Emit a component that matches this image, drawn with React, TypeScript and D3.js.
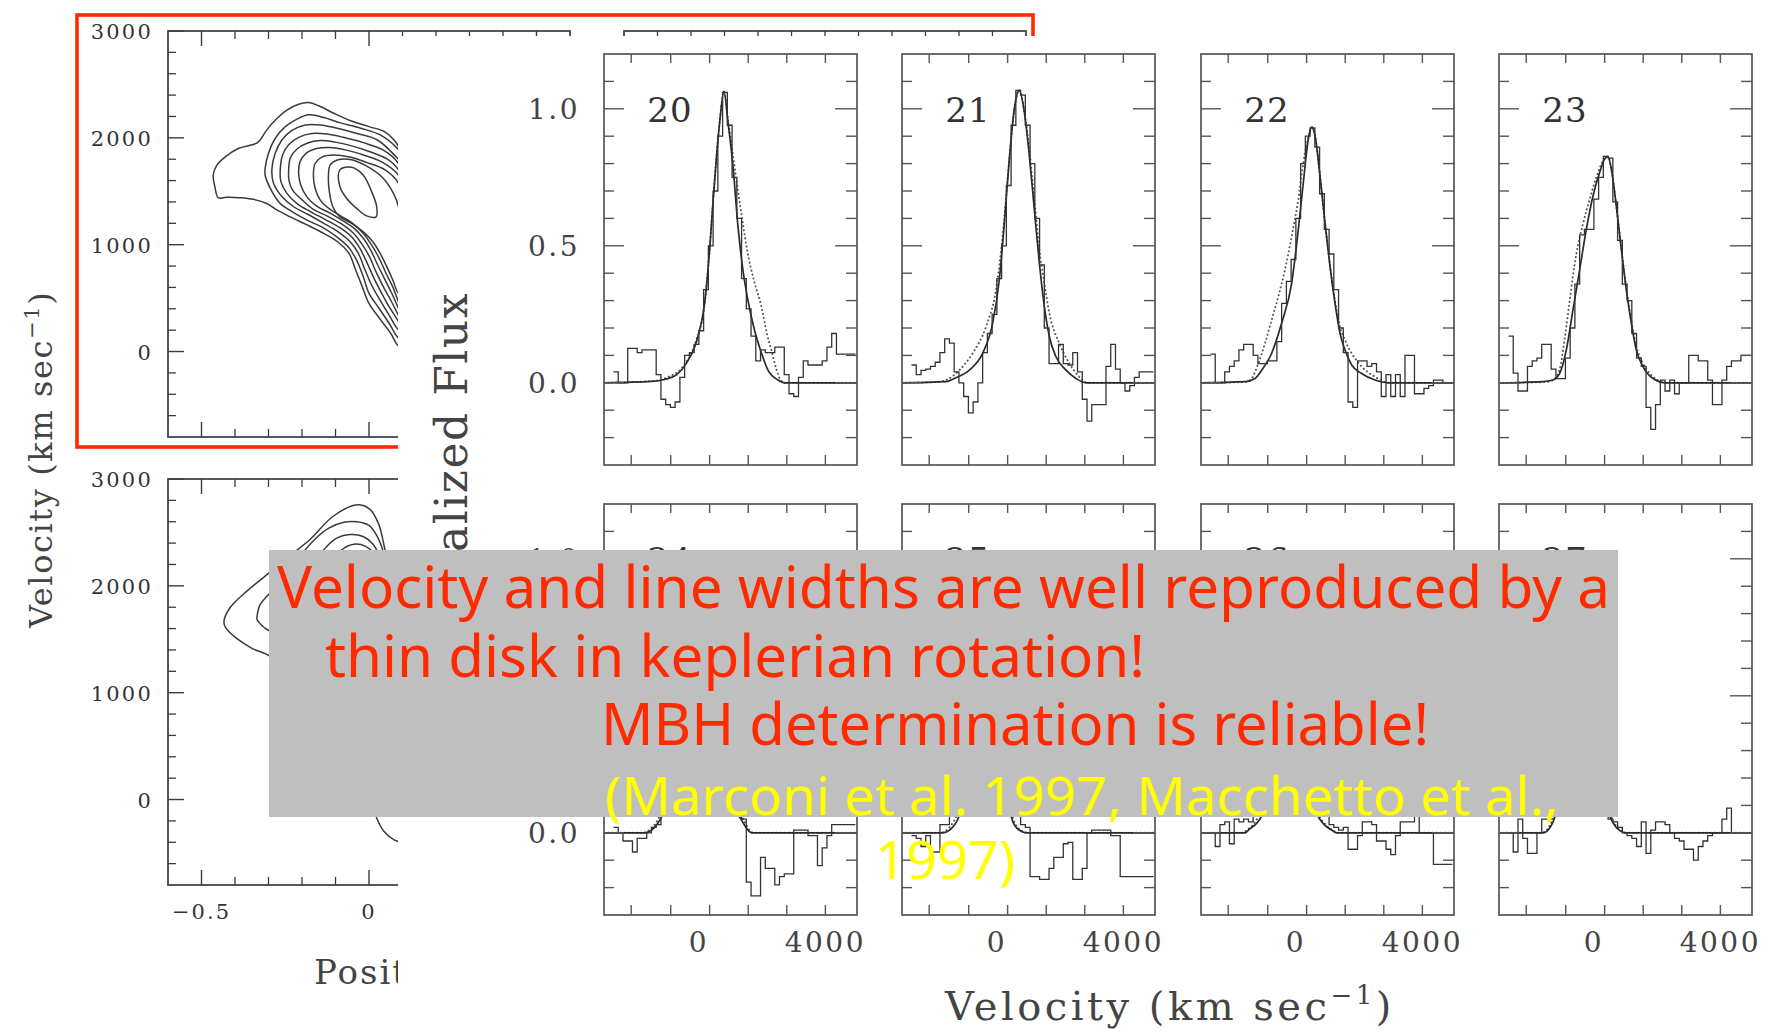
import React from "react";
import * as d3 from "d3";

type P = [number, number];

const W = 1774;
const H = 1034;

// ---------------- PV diagrams (position-velocity) ----------------
const pvXMajor = [-0.5, 0, 0.5];
const pvXMinor = [-0.4, -0.3, -0.2, -0.1, 0.1, 0.2, 0.3, 0.4];
const pvXLabels = ["−0.5", "0", "0.5"];
const pvYMajor = [0, 1000, 2000, 3000];
const pvYMinor = [-600, -400, -200, 200, 400, 600, 800, 1200, 1400, 1600, 1800, 2200, 2400, 2600, 2800];
const pvYLabels = ["0", "1000", "2000", "3000"];

const pvTopContours: P[][] = [
  [[-0.45,1440],[-0.46,1540],[-0.465,1650],[-0.455,1740],[-0.43,1820],[-0.39,1900],[-0.355,1930],[-0.335,1950],[-0.325,1980],[-0.305,2075],[-0.28,2165],[-0.245,2260],[-0.21,2315],[-0.18,2330],[-0.15,2300],[-0.105,2230],[-0.055,2160],[0.0,2105],[0.045,2060],[0.075,1980],[0.10,1855],[0.16,1500],[0.2,1000],[0.2,400],[0.15,0],[0.09,45],[0.065,170],[0.035,295],[0.0,450],[-0.02,605],[-0.04,765],[-0.06,920],[-0.095,1030],[-0.135,1105],[-0.185,1185],[-0.235,1260],[-0.275,1325],[-0.305,1385],[-0.345,1425],[-0.385,1440],[-0.425,1443]],
  [[-0.31,1715],[-0.30,1855],[-0.28,1995],[-0.25,2105],[-0.215,2175],[-0.18,2215],[-0.135,2190],[-0.085,2140],[-0.025,2090],[0.035,2025],[0.085,1900],[0.13,1700],[0.17,1200],[0.17,500],[0.12,100],[0.11,170],[0.09,125],[0.06,265],[0.03,405],[0.0,545],[-0.017,700],[-0.037,855],[-0.062,980],[-0.097,1075],[-0.135,1155],[-0.185,1230],[-0.23,1310],[-0.265,1385],[-0.295,1530],[-0.31,1650]],
  [[-0.29,1700],[-0.28,1855],[-0.26,1980],[-0.23,2070],[-0.19,2120],[-0.145,2120],[-0.095,2090],[-0.035,2040],[0.025,1980],[0.08,1825],[0.12,1670],[0.155,1200],[0.155,500],[0.11,150],[0.10,230],[0.09,200],[0.06,340],[0.033,480],[0.008,620],[-0.012,765],[-0.032,920],[-0.057,1030],[-0.092,1120],[-0.135,1200],[-0.18,1280],[-0.225,1355],[-0.26,1450],[-0.285,1575]],
  [[-0.265,1700],[-0.258,1840],[-0.24,1935],[-0.21,2005],[-0.17,2040],[-0.125,2035],[-0.077,2005],[-0.017,1955],[0.043,1885],[0.088,1760],[0.14,1300],[0.14,500],[0.10,200],[0.088,280],[0.06,420],[0.038,545],[0.015,685],[-0.005,825],[-0.027,965],[-0.052,1075],[-0.087,1160],[-0.13,1235],[-0.175,1310],[-0.215,1385],[-0.245,1480],[-0.263,1590]],
  [[-0.24,1685],[-0.235,1810],[-0.215,1895],[-0.185,1950],[-0.145,1975],[-0.10,1960],[-0.052,1925],[0.003,1870],[0.058,1795],[0.088,1700],[0.13,1300],[0.13,500],[0.10,280],[0.088,340],[0.065,480],[0.043,605],[0.021,745],[0.001,890],[-0.022,1010],[-0.047,1110],[-0.082,1195],[-0.126,1270],[-0.166,1330],[-0.20,1420],[-0.228,1510],[-0.239,1605]],
  [[-0.21,1670],[-0.206,1775],[-0.188,1855],[-0.156,1900],[-0.116,1910],[-0.067,1885],[-0.017,1840],[0.038,1775],[0.088,1650],[0.12,1300],[0.12,500],[0.10,340],[0.088,405],[0.068,545],[0.048,670],[0.026,810],[0.005,950],[-0.017,1060],[-0.045,1155],[-0.079,1225],[-0.116,1295],[-0.156,1360],[-0.186,1450],[-0.204,1560]],
  [[-0.166,1650],[-0.161,1760],[-0.141,1820],[-0.106,1840],[-0.057,1820],[-0.007,1770],[0.048,1700],[0.088,1575],[0.11,1300],[0.11,600],[0.10,400],[0.088,465],[0.071,605],[0.051,730],[0.031,870],[0.008,995],[-0.017,1105],[-0.047,1195],[-0.082,1265],[-0.116,1330],[-0.146,1420],[-0.161,1530]],
  [[-0.121,1650],[-0.116,1745],[-0.092,1795],[-0.052,1795],[-0.007,1735],[0.038,1635],[0.073,1480],[0.088,1355],[0.10,1000],[0.10,650],[0.088,545],[0.071,670],[0.053,795],[0.033,920],[0.011,1030],[-0.017,1120],[-0.052,1200],[-0.087,1260],[-0.108,1355],[-0.119,1510]],
  [[-0.087,1700],[-0.052,1725],[-0.017,1650],[0.008,1495],[0.023,1355],[0.021,1260],[-0.007,1270],[-0.037,1340],[-0.067,1435],[-0.087,1545]],
];

const pvBottomContours: P[][] = [
  [[-0.433,1664],[-0.416,1790],[-0.371,1933],[-0.302,2112],[-0.233,2291],[-0.176,2434],[-0.108,2649],[-0.039,2757],[0.001,2721],[0.029,2578],[0.046,2363],[0.064,2112],[0.12,1500],[0.2,800],[0.2,0],[0.12,-380],[0.087,-390],[0.075,-378],[0.045,-300],[0.029,-217],[0.0,0],[-0.08,400],[-0.17,800],[-0.24,1150],[-0.296,1342],[-0.348,1413],[-0.393,1503],[-0.428,1610]],
  [[-0.334,1718],[-0.325,1825],[-0.296,1933],[-0.222,2219],[-0.16,2440],[-0.12,2540],[-0.075,2595],[-0.035,2600],[0.0,2565],[0.025,2460],[0.045,2300],[0.08,1900],[0.12,1300],[0.13,500],[0.08,100],[0.04,150],[0.0,400],[-0.1,900],[-0.2,1300],[-0.296,1575],[-0.313,1610],[-0.334,1682]],
  [[-0.25,1750],[-0.2,2050],[-0.14,2320],[-0.1,2440],[-0.056,2480],[-0.016,2460],[0.012,2390],[0.04,2220],[0.07,1900],[0.1,1400],[0.1,700],[0.06,300],[0.0,600],[-0.08,1000],[-0.16,1350],[-0.22,1550]],
  [[-0.18,1800],[-0.12,2150],[-0.08,2340],[-0.045,2390],[-0.01,2370],[0.015,2300],[0.04,2120],[0.07,1700],[0.08,1200],[0.05,900],[0.0,1050],[-0.08,1350],[-0.15,1600]],
];

// ---------------- Spectra ----------------
const panelIds = ["20", "21", "22", "23", "24", "25", "26", "27"];
const binStart = -2700;
const binWidth = 150;

const hist20 = [0.04,0.0,0.0,0.126,0.126,0.11,0.12,0.12,0.12,0.03,-0.06,-0.08,-0.09,-0.07,0.02,0.1,0.11,0.14,0.19,0.34,0.5,0.7,0.9,1.06,0.94,0.75,0.6,0.38,0.27,0.17,0.08,0.12,0.11,0.11,0.13,0.13,0.03,-0.04,-0.05,0.02,0.08,0.065,0.065,0.065,0.08,0.13,0.18,0.105,0.105,0.105,0.105];
const hist21 = [0.065,0.03,0.045,0.05,0.06,0.075,0.11,0.16,0.145,0.04,0.0,-0.05,-0.11,-0.07,0.0,0.11,0.18,0.25,0.38,0.5,0.72,0.94,1.067,1.05,0.94,0.8,0.6,0.43,0.2,0.07,0.07,0.14,0.07,0.065,0.11,0.04,-0.06,-0.14,-0.08,-0.08,-0.08,0.06,0.14,0.05,0.0,-0.03,-0.01,0.02,0.04,0.04,0.04];
const hist22 = [0.105,0.0,0.0,0.04,0.06,0.08,0.12,0.14,0.14,0.10,0.07,0.07,0.08,0.08,0.15,0.29,0.37,0.45,0.6,0.8,0.9,0.93,0.86,0.69,0.56,0.47,0.34,0.2,0.11,-0.07,-0.09,0.08,0.08,0.06,0.07,0.04,-0.05,0.03,-0.05,0.03,-0.05,0.1,0.1,-0.04,-0.04,-0.02,-0.01,0.01,0.01,0.0,0.0];
const hist23 = [0.17,0.035,-0.03,-0.03,0.06,0.08,0.09,0.14,0.14,0.05,0.015,0.015,0.09,0.2,0.36,0.54,0.56,0.56,0.67,0.75,0.826,0.82,0.66,0.52,0.36,0.3,0.18,0.09,0.06,-0.09,-0.17,-0.08,0.01,-0.03,0.01,-0.04,0.0,0.0,0.1,0.1,0.08,0.08,0.01,-0.08,-0.08,0.01,0.06,0.08,0.08,0.1,0.1];
const hist24 = [0.02,0.0,-0.03,-0.03,-0.07,-0.02,-0.02,0.0,0.02,0.03,0.06,0.1,0.2,0.33,0.5,0.62,0.78,0.86,0.84,0.7,0.55,0.42,0.3,0.2,0.15,0.09,0.06,0.05,-0.18,-0.23,-0.23,-0.09,-0.13,-0.13,-0.19,-0.16,-0.15,-0.15,0.01,0.01,0.01,-0.01,-0.01,-0.12,-0.055,-0.01,0.03,0.03,0.03,0.03,0.03];
const hist25 = [-0.01,-0.02,-0.05,-0.01,-0.07,-0.07,0.03,0.03,0.06,0.08,0.15,0.28,0.45,0.62,0.8,0.9,0.86,0.75,0.58,0.4,0.25,0.12,0.06,0.03,0.02,-0.16,-0.16,-0.17,-0.17,-0.13,-0.09,-0.09,-0.04,-0.035,-0.17,-0.17,-0.13,0.0,0.01,0.01,0.01,0.01,-0.01,-0.01,-0.16,-0.16,-0.16,-0.16,-0.16,-0.16,-0.16];
const hist26 = [0.0,-0.05,0.03,0.04,-0.04,0.05,0.04,0.05,0.04,0.06,0.1,0.18,0.3,0.45,0.62,0.78,0.86,0.84,0.7,0.5,0.32,0.2,0.12,0.08,0.06,0.03,0.02,0.01,0.02,-0.06,-0.06,-0.01,0.04,0.04,0.03,-0.03,-0.03,-0.06,-0.08,-0.01,0.04,0.04,0.04,0.08,0.0,0.0,0.0,-0.115,-0.115,-0.115,-0.115];
const hist27 = [0.0,-0.07,0.05,-0.02,-0.075,-0.075,0.0,0.05,0.05,0.06,0.12,0.25,0.45,0.65,0.78,0.82,0.7,0.52,0.35,0.22,0.12,0.05,0.04,0.02,0.0,-0.01,-0.02,-0.05,0.04,-0.075,0.01,0.04,0.04,0.03,0.0,-0.02,-0.03,-0.06,-0.06,-0.1,-0.05,-0.03,-0.01,0.0,0.0,0.05,0.09,0.0,0.0,0.0,0.0];

const solid20: P[] = [[-3000,0],[-1500,0.005],[-1082,0.012],[-700,0.03],[-397,0.071],[-28,0.169],[183,0.291],[341,0.487],[446,0.658],[552,0.817],[657,0.951],[794,1.064],[921,0.951],[1079,0.79],[1237,0.57],[1395,0.41],[1553,0.3],[1764,0.19],[1975,0.11],[2186,0.046],[2502,0.01],[2713,0],[5000,0]];
const dotted20: P[] = [[-3000,0],[-1500,0.006],[-1000,0.02],[-500,0.06],[-100,0.15],[183,0.29],[341,0.49],[446,0.66],[552,0.82],[657,0.95],[794,1.064],[921,0.96],[1079,0.83],[1237,0.7],[1395,0.58],[1522,0.487],[1750,0.37],[1975,0.279],[2150,0.18],[2291,0.12],[2450,0.05],[2555,0.016],[2700,0],[5000,0]];
const solid21: P[] = [[-3000,0],[-1600,0.004],[-1345,0.016],[-871,0.046],[-449,0.108],[-133,0.218],[78,0.377],[236,0.584],[394,0.817],[552,1.0],[710,1.067],[868,0.988],[1026,0.829],[1184,0.633],[1342,0.438],[1501,0.279],[1659,0.169],[1869,0.095],[2186,0.046],[2502,0.016],[2818,0],[5000,0]];
const dotted21: P[] = [[-3000,0],[-1900,0.003],[-1609,0.01],[-1187,0.046],[-766,0.108],[-344,0.205],[-28,0.34],[183,0.535],[394,0.817],[552,1.0],[710,1.067],[868,0.99],[1026,0.85],[1184,0.67],[1342,0.487],[1501,0.364],[1659,0.254],[1975,0.144],[2291,0.071],[2607,0.022],[2871,0],[5000,0]];
const solid22: P[] = [[-3000,0],[-1609,0.004],[-1292,0.016],[-1082,0.046],[-766,0.108],[-449,0.218],[-133,0.364],[78,0.56],[236,0.731],[394,0.89],[499,0.933],[605,0.902],[763,0.755],[921,0.584],[1079,0.425],[1237,0.291],[1395,0.181],[1553,0.12],[1764,0.065],[2080,0.034],[2502,0.01],[2924,0],[5000,0]];
const dotted22: P[] = [[-3000,0],[-1600,0.003],[-1398,0.016],[-1187,0.071],[-976,0.144],[-766,0.23],[-555,0.315],[-344,0.413],[-133,0.535],[78,0.67],[236,0.804],[394,0.896],[499,0.933],[605,0.902],[763,0.755],[921,0.584],[1079,0.43],[1237,0.3],[1395,0.205],[1553,0.156],[1764,0.108],[2080,0.059],[2502,0.022],[2924,0],[5000,0]];
const solid23: P[] = [[-3000,0],[-1609,0.004],[-1292,0.01],[-1082,0.034],[-871,0.12],[-660,0.267],[-449,0.413],[-239,0.56],[-28,0.682],[183,0.768],[341,0.817],[446,0.826],[552,0.78],[710,0.645],[868,0.487],[1026,0.34],[1184,0.218],[1342,0.12],[1553,0.059],[1869,0.016],[2291,0],[5000,0]];
const dotted23: P[] = [[-3000,0],[-1500,0.003],[-1292,0.01],[-1082,0.05],[-924,0.16],[-766,0.3],[-555,0.47],[-344,0.58],[-133,0.67],[78,0.75],[289,0.81],[446,0.826],[552,0.78],[710,0.645],[868,0.49],[1026,0.345],[1184,0.225],[1342,0.132],[1553,0.071],[1869,0.022],[2291,0],[5000,0]];
const solid24: P[] = [[-3000,0],[-1700,0],[-1330,0.03],[-1100,0.08],[-800,0.25],[-500,0.5],[-200,0.8],[0,0.88],[250,0.75],[550,0.45],[850,0.22],[1100,0.1],[1330,0.05],[1670,0],[5000,0]];
const dotted24: P[] = [[-3000,0],[-1800,0],[-1400,0.03],[-1150,0.09],[-850,0.26],[-520,0.52],[-200,0.81],[0,0.88],[250,0.76],[550,0.48],[850,0.25],[1100,0.12],[1380,0.055],[1720,0],[5000,0]];
const solid25: P[] = [[-3000,0],[-1700,0],[-1330,0.03],[-1100,0.1],[-850,0.3],[-600,0.6],[-350,0.85],[-200,0.9],[0,0.7],[200,0.35],[350,0.13],[490,0.045],[700,0.01],[940,0],[5000,0]];
const dotted25: P[] = [[-3000,0],[-1800,0],[-1400,0.035],[-1150,0.11],[-880,0.3],[-620,0.6],[-350,0.86],[-200,0.9],[0,0.72],[200,0.38],[360,0.15],[520,0.05],[750,0.01],[1000,0],[5000,0]];
const solid26: P[] = [[-3000,0],[-1600,0],[-1500,0.01],[-1090,0.06],[-850,0.2],[-600,0.45],[-350,0.75],[-150,0.85],[50,0.7],[300,0.4],[500,0.18],[650,0.075],[900,0.03],[1130,0.01],[1300,0],[5000,0]];
const dotted26: P[] = [[-3000,0],[-1700,0],[-1550,0.01],[-1150,0.07],[-880,0.21],[-620,0.46],[-350,0.76],[-150,0.85],[50,0.72],[300,0.42],[500,0.2],[650,0.09],[900,0.035],[1150,0.01],[1350,0],[5000,0]];
const solid27: P[] = [[-3000,0],[-1600,0],[-1290,0.04],[-1050,0.15],[-800,0.45],[-550,0.75],[-350,0.82],[-150,0.6],[100,0.3],[300,0.13],[507,0.06],[700,0.02],[870,0.005],[1000,0],[5000,0]];
const dotted27: P[] = [[-3000,0],[-1650,0],[-1320,0.045],[-1080,0.16],[-820,0.46],[-560,0.76],[-350,0.82],[-150,0.62],[100,0.32],[300,0.15],[507,0.07],[700,0.025],[900,0.005],[1050,0],[5000,0]];

const specXTicks = [-2140, -890, 340, 1560, 2780, 4000];
const specXLabelValues = [0, 4000];
const specXLabels = ["0", "4000"];
const specYMajor = [0, 0.5, 1.0];
const specYMinor = [-0.2, -0.1, 0.1, 0.2, 0.3, 0.4, 0.6, 0.7, 0.8, 0.9, 1.1];
const specYLabels = ["0.0", "0.5", "1.0"];

// ---------------- Slide text ----------------
const redLines = [
  "Velocity and line widths are well reproduced by a",
  "thin disk in keplerian rotation!",
  "MBH determination is reliable!",
];
const yellowLines = ["(Marconi et al. 1997, Macchetto et al.,", "1997)"];

// ---------------- layout ----------------
const INK = "#3a3a3a";
const SERIF = "'DejaVu Serif', 'Liberation Serif', serif";
const SLIDE_FONT = "'Noto Sans', 'Open Sans', sans-serif";

const hists = [hist20, hist21, hist22, hist23, hist24, hist25, hist26, hist27];
const solids = [solid20, solid21, solid22, solid23, solid24, solid25, solid26, solid27];
const dotteds = [dotted20, dotted21, dotted22, dotted23, dotted24, dotted25, dotted26, dotted27];

const colX = [604, 902, 1201, 1499];
const rowY = [54, 504];
const PW = 253;
const PH = 411;

function PVPlot({ top, contours, id, showXLabels }: { top: number; contours: P[][]; id: string; showXLabels: boolean }) {
  const x = d3.scaleLinear().domain([-0.6, 0.6]).range([168, 570]);
  const y = d3.scaleLinear().domain([-800, 3000]).range([top + 406, top]);
  const line = d3
    .line<P>()
    .x((d) => x(d[0]))
    .y((d) => y(d[1]))
    .curve(d3.curveCatmullRomClosed.alpha(0.5));
  const [x0, x1] = x.range();
  const [y0, y1] = [y(3000), y(-800)];
  return (
    <g>
      <clipPath id={id}>
        <rect x={x0} y={y0} width={x1 - x0} height={y1 - y0} />
      </clipPath>
      <g clipPath={`url(#${id})`}>
        {contours.map((c, i) => (
          <path key={i} d={line(c) || ""} fill="none" stroke={INK} strokeWidth={1.5} />
        ))}
      </g>
      <rect x={x0} y={y0} width={x1 - x0} height={y1 - y0} fill="none" stroke={INK} strokeWidth={1.7} />
      {pvXMajor.map((v) => (
        <g key={"xm" + v}>
          <line x1={x(v)} x2={x(v)} y1={y0} y2={y0 + 15} stroke={INK} strokeWidth={1.4} />
          <line x1={x(v)} x2={x(v)} y1={y1} y2={y1 - 15} stroke={INK} strokeWidth={1.4} />
        </g>
      ))}
      {pvXMinor.map((v) => (
        <g key={"xn" + v}>
          <line x1={x(v)} x2={x(v)} y1={y0} y2={y0 + 8} stroke={INK} strokeWidth={1.3} />
          <line x1={x(v)} x2={x(v)} y1={y1} y2={y1 - 8} stroke={INK} strokeWidth={1.3} />
        </g>
      ))}
      {pvYMajor.map((v) => (
        <line key={"ym" + v} x1={x0} x2={x0 + 16} y1={y(v)} y2={y(v)} stroke={INK} strokeWidth={1.4} />
      ))}
      {pvYMinor.map((v) => (
        <line key={"yn" + v} x1={x0} x2={x0 + 8} y1={y(v)} y2={y(v)} stroke={INK} strokeWidth={1.3} />
      ))}
      {pvYMajor.map((v, i) => (
        <text key={"yl" + v} x={153} y={y(v) + 8} textAnchor="end" fontFamily={SERIF} fontSize={21} letterSpacing={2.2} fill="#333">
          {pvYLabels[i]}
        </text>
      ))}
      {showXLabels &&
        pvXMajor.map((v, i) => (
          <text key={"xl" + v} x={x(v)} y={y1 + 34} textAnchor="middle" fontFamily={SERIF} fontSize={21} letterSpacing={2} fill="#333">
            {pvXLabels[i]}
          </text>
        ))}
    </g>
  );
}

function SpecPanel({ k }: { k: number }) {
  const col = k % 4;
  const row = Math.floor(k / 4);
  const sx = d3.scaleLinear().domain([-3000, 5000]).range([0, PW]);
  const sy = d3.scaleLinear().domain([-0.3, 1.2]).range([PH, 0]);
  const hist = hists[k];
  const histPts: P[] = hist.map((h, i) => [binStart + i * binWidth, h] as P);
  histPts.push([binStart + hist.length * binWidth, hist[hist.length - 1]]);
  const stepLine = d3
    .line<P>()
    .x((d) => sx(d[0]))
    .y((d) => sy(d[1]))
    .curve(d3.curveStepAfter);
  const smooth = d3
    .line<P>()
    .x((d) => sx(d[0]))
    .y((d) => sy(d[1]))
    .curve(d3.curveMonotoneX);
  const id = "spclip" + k;
  return (
    <g transform={`translate(${colX[col]},${rowY[row]})`}>
      <clipPath id={id}>
        <rect x={0} y={0} width={PW} height={PH} />
      </clipPath>
      <g clipPath={`url(#${id})`}>
        <path d={smooth(dotteds[k]) || ""} fill="none" stroke="#555" strokeWidth={2} strokeDasharray="0.1 4" strokeLinecap="round" />
        <path d={smooth(solids[k]) || ""} fill="none" stroke="#2a2a2a" strokeWidth={1.7} />
        <path d={stepLine(histPts) || ""} fill="none" stroke="#333" strokeWidth={1.3} />
      </g>
      <rect x={0} y={0} width={PW} height={PH} fill="none" stroke="#555" strokeWidth={1.7} />
      {specXTicks.map((v) => (
        <g key={"xt" + v}>
          <line x1={sx(v)} x2={sx(v)} y1={0} y2={9} stroke="#555" strokeWidth={1.4} />
          <line x1={sx(v)} x2={sx(v)} y1={PH} y2={PH - 10} stroke="#555" strokeWidth={1.4} />
        </g>
      ))}
      {specYMajor.map((v) => (
        <g key={"ym" + v}>
          <line x1={0} x2={20} y1={sy(v)} y2={sy(v)} stroke="#555" strokeWidth={1.4} />
          <line x1={PW} x2={PW - 22} y1={sy(v)} y2={sy(v)} stroke="#555" strokeWidth={1.4} />
        </g>
      ))}
      {specYMinor.map((v) => (
        <g key={"yn" + v}>
          <line x1={0} x2={10} y1={sy(v)} y2={sy(v)} stroke="#555" strokeWidth={1.4} />
          <line x1={PW} x2={PW - 11} y1={sy(v)} y2={sy(v)} stroke="#555" strokeWidth={1.4} />
        </g>
      ))}
      <text x={66} y={68} textAnchor="middle" fontFamily={SERIF} fontSize={34} letterSpacing={1} fill="#333">
        {panelIds[k]}
      </text>
      {col === 0 &&
        specYMajor.map((v, i) => (
          <text key={"yl" + v} x={-24} y={sy(v) + 10} textAnchor="end" fontFamily={SERIF} fontSize={28} letterSpacing={2.5} fill="#444">
            {specYLabels[i]}
          </text>
        ))}
      {row === 1 &&
        specXLabelValues.map((v, i) => (
          <text key={"xl" + v} x={sx(v)} y={PH + 37} textAnchor="middle" fontFamily={SERIF} fontSize={28} letterSpacing={2.5} fill="#444">
            {specXLabels[i]}
          </text>
        ))}
    </g>
  );
}

export default function App() {
  const xPv2 = d3.scaleLinear().domain([-0.6, 0.6]).range([624, 1026]);
  return (
    <div style={{ position: "absolute", left: 0, top: 0, width: W, height: H, overflow: "hidden", background: "#fff" }}>
      <svg width={W} height={H} viewBox={`0 0 ${W} ${H}`} style={{ display: "block" }}>
        <rect x={0} y={0} width={W} height={H} fill="#fff" />

        {/* red highlight frame */}
        <rect x={77} y={15} width={956} height={432} fill="none" stroke="#ff2a00" strokeWidth={3.6} />

        {/* PV diagrams */}
        <PVPlot top={31} contours={pvTopContours} id="pvtop" showXLabels={false} />
        <PVPlot top={479} contours={pvBottomContours} id="pvbot" showXLabels={true} />

        {/* second PV panel frame (top edge only visible) */}
        <rect x={xPv2(-0.6)} y={31} width={xPv2(0.6) - xPv2(-0.6)} height={406} fill="none" stroke={INK} strokeWidth={1.7} />
        {[...pvXMajor, ...pvXMinor].map((v) => (
          <line key={"t2" + v} x1={xPv2(v)} x2={xPv2(v)} y1={31} y2={pvXMajor.includes(v) ? 46 : 39} stroke={INK} strokeWidth={1.3} />
        ))}

        <text transform="translate(52,628) rotate(-90)" fontFamily={SERIF} fontSize={32} letterSpacing={1.6} fill="#444">
          Velocity (km sec
          <tspan dy={-13} fontSize={21}>
            −1
          </tspan>
          <tspan dy={13}>)</tspan>
        </text>
        <text x={314} y={984} fontFamily={SERIF} fontSize={34} letterSpacing={2} fill="#444">
          Position (arcsec)
        </text>

        {/* overlaid spectra figure */}
        <rect x={398} y={36} width={W - 398} height={H - 36} fill="#fff" />
        {panelIds.map((_, k) => (
          <SpecPanel key={k} k={k} />
        ))}
        <text transform="translate(467,292) rotate(-90)" textAnchor="end" fontFamily={SERIF} fontSize={44} letterSpacing={1.5} fill="#444">
          Normalized Flux
        </text>
        <text x={945} y={1020} fontFamily={SERIF} fontSize={40} letterSpacing={3.5} fill="#444">
          Velocity (km sec
          <tspan dy={-16} fontSize={26}>
            −1
          </tspan>
          <tspan dy={16}>)</tspan>
        </text>

        {/* annotation box */}
        <rect x={269} y={550} width={1349} height={267} fill="#bfbfbf" />
        <text x={277} y={608} fontFamily={SLIDE_FONT} fontSize={58} fill="#ff2a00" textLength={1333} lengthAdjust="spacingAndGlyphs">
          {redLines[0]}
        </text>
        <text x={325} y={677} fontFamily={SLIDE_FONT} fontSize={58} fill="#ff2a00" textLength={820} lengthAdjust="spacingAndGlyphs">
          {redLines[1]}
        </text>
        <text x={601} y={745} fontFamily={SLIDE_FONT} fontSize={58} fill="#ff2a00" textLength={828} lengthAdjust="spacingAndGlyphs">
          {redLines[2]}
        </text>
        <text x={605} y={815} fontFamily={SLIDE_FONT} fontSize={53} fill="#ffff00" textLength={954} lengthAdjust="spacingAndGlyphs">
          {yellowLines[0]}
        </text>
        <text x={875} y={879} fontFamily={SLIDE_FONT} fontSize={53} fill="#ffff00" textLength={140} lengthAdjust="spacingAndGlyphs">
          {yellowLines[1]}
        </text>
      </svg>
    </div>
  );
}
